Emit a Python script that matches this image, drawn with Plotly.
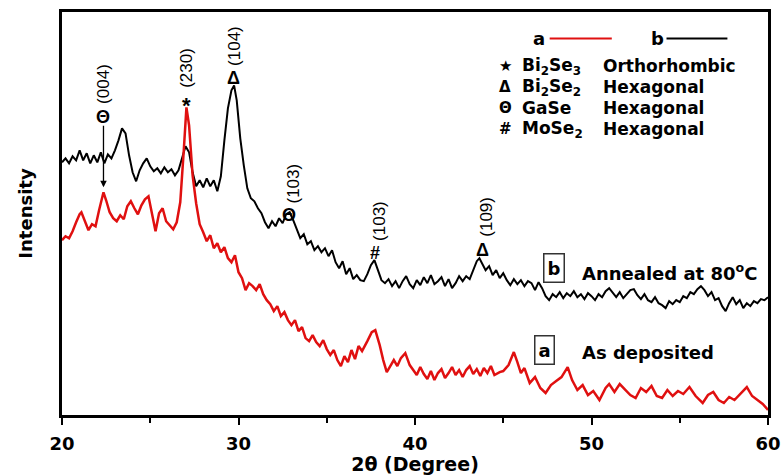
import plotly.graph_objects as go

# ---- data (2-theta in degrees, intensity in arbitrary units) ----
two_theta_b = [20.0, 20.2, 20.4, 20.6, 20.8, 21.0, 21.2, 21.4, 21.6, 21.8, 22.0, 22.2, 22.4, 22.6, 22.8,
               23.0, 23.2, 23.4, 23.6, 23.8, 24.0, 24.2, 24.4, 24.6, 24.8, 25.0, 25.2, 25.4, 25.6, 25.8,
               26.0, 26.2, 26.4, 26.6, 26.8, 27.0, 27.2, 27.4, 27.6, 27.8, 28.0, 28.2, 28.4, 28.6, 28.8,
               29.0, 29.2, 29.4, 29.6, 29.75, 29.9, 30.1, 30.3, 30.5, 30.7, 30.9, 31.1, 31.3, 31.5, 31.7,
               31.9, 32.1, 32.3, 32.5, 32.7, 32.9, 33.1, 33.3, 33.5, 33.7, 33.9, 34.1, 34.3, 34.5, 34.7,
               34.9, 35.1, 35.3, 35.5, 35.7, 35.9, 36.1, 36.3, 36.5, 36.7, 36.9, 37.1, 37.3, 37.5, 37.7,
               37.9, 38.1, 38.3, 38.5, 38.7, 38.9, 39.1, 39.3, 39.5, 39.7, 39.9, 40.1, 40.3, 40.5, 40.7,
               40.9, 41.1, 41.3, 41.5, 41.7, 41.9, 42.1, 42.3, 42.5, 42.7, 42.9, 43.1, 43.3, 43.5, 43.65,
               43.8, 44.0, 44.2, 44.4, 44.6, 44.8, 45.0, 45.2, 45.4, 45.6, 45.8, 46.0, 46.2, 46.4, 46.6,
               46.8, 47.0, 47.2, 47.4, 47.6, 47.8, 48.0, 48.2, 48.4, 48.6, 48.8, 49.0, 49.2, 49.4, 49.6,
               49.8, 50.0, 50.2, 50.4, 50.6, 50.8, 51.0, 51.2, 51.4, 51.6, 51.8, 52.0, 52.2, 52.4, 52.6,
               52.8, 53.0, 53.2, 53.4, 53.6, 53.8, 54.0, 54.2, 54.4, 54.6, 54.8, 55.0, 55.2, 55.4, 55.6,
               55.8, 56.0, 56.2, 56.4, 56.6, 56.8, 57.0, 57.2, 57.4, 57.6, 57.8, 58.0, 58.2, 58.4, 58.6,
               58.8, 59.0, 59.2, 59.4, 59.6, 59.8, 60.0]
intensity_b = [253, 257, 252, 259, 255, 265, 255, 262, 252, 260, 253, 263, 252, 261, 257,
               265, 275, 287, 282, 260, 243, 234, 245, 252, 257, 249, 244, 247, 242, 248,
               243, 246, 240, 245, 257, 269, 263, 243, 229, 235, 228, 237, 229, 235, 224,
               239, 275, 307, 325, 330, 315, 277, 250, 227, 217, 214, 207, 202, 193, 187,
               194, 189, 197, 192, 201, 203, 195, 186, 177, 181, 171, 174, 165, 169, 163,
               167, 159, 165, 153, 147, 154, 141, 147, 136, 140, 135, 134, 141, 150, 155,
               145, 135, 132, 136, 129, 134, 127, 134, 139, 131, 127, 135, 130, 138, 132,
               140, 131, 134, 138, 129, 136, 127, 132, 139, 134, 139, 136, 145, 154, 157,
               152, 145, 149, 140, 145, 137, 142, 135, 130, 136, 131, 135, 129, 134, 132,
               125, 133, 127, 119, 115, 121, 118, 123, 117, 122, 119, 124, 118, 121, 116,
               122, 119, 115, 121, 118, 124, 127, 122, 118, 123, 117, 121, 125, 126, 120,
               116, 121, 115, 113, 118, 112, 110, 107, 114, 111, 115, 113, 119, 117, 123,
               121, 126, 129, 125, 119, 123, 115, 117, 109, 104, 112, 118, 111, 115, 107,
               112, 109, 114, 112, 116, 115, 118]

two_theta_a = [20.0, 20.2, 20.4, 20.6, 20.8, 21.0, 21.1, 21.3, 21.5, 21.7, 21.9, 22.1, 22.35, 22.5, 22.7,
               22.9, 23.1, 23.3, 23.5, 23.7, 23.9, 24.1, 24.3, 24.5, 24.7, 24.9, 25.1, 25.3, 25.5, 25.7,
               25.9, 26.1, 26.3, 26.5, 26.7, 26.9, 27.05, 27.2, 27.4, 27.6, 27.8, 28.0, 28.2, 28.4, 28.6,
               28.8, 29.0, 29.2, 29.4, 29.6, 29.8, 30.0, 30.2, 30.4, 30.6, 30.8, 31.0, 31.2, 31.4, 31.6,
               31.8, 32.0, 32.2, 32.4, 32.6, 32.8, 33.0, 33.2, 33.4, 33.6, 33.8, 34.0, 34.2, 34.4, 34.6,
               34.8, 35.0, 35.2, 35.4, 35.6, 35.8, 36.0, 36.2, 36.4, 36.6, 36.8, 37.0, 37.3, 37.55, 37.75,
               38.0, 38.2, 38.4, 38.6, 38.8, 39.0, 39.2, 39.45, 39.7, 39.9, 40.1, 40.3, 40.5, 40.7, 40.9,
               41.1, 41.3, 41.5, 41.7, 41.9, 42.1, 42.3, 42.5, 42.7, 42.9, 43.1, 43.3, 43.5, 43.7, 43.9,
               44.1, 44.3, 44.5, 44.8, 45.0, 45.3, 45.6, 45.8, 46.0, 46.2, 46.5, 46.8, 47.1, 47.4, 47.7,
               48.0, 48.3, 48.65, 48.9, 49.2, 49.5, 49.8, 50.1, 50.45, 50.8, 51.0, 51.3, 51.6, 51.9, 52.2,
               52.5, 52.8, 53.1, 53.4, 53.7, 54.0, 54.3, 54.6, 54.9, 55.2, 55.55, 55.9, 56.3, 56.6, 56.9,
               57.2, 57.5, 57.8, 58.1, 58.4, 58.8, 59.1, 59.4, 59.7, 60.0]
intensity_a = [175, 179, 177, 184, 193, 201, 203, 193, 185, 191, 189, 205, 223, 215, 203,
               197, 194, 200, 196, 209, 214, 207, 201, 210, 216, 219, 201, 184, 202, 207,
               194, 190, 186, 193, 213, 265, 308, 290, 240, 212, 191, 183, 174, 180, 167,
               172, 163, 168, 157, 153, 160, 143, 137, 125, 132, 129, 125, 131, 121, 115,
               111, 104, 109, 99, 103, 95, 90, 95, 84, 88, 77, 74, 80, 73, 69,
               75, 66, 60, 65, 55, 49, 59, 53, 65, 56, 69, 64, 74, 83, 85,
               70, 55, 43, 49, 55, 49, 57, 62, 50, 45, 40, 48, 41, 36, 44,
               35, 42, 46, 37, 42, 48, 40, 45, 38, 45, 49, 41, 46, 39, 47,
               42, 49, 40, 43, 44, 50, 63, 53, 42, 47, 32, 38, 27, 22, 30,
               34, 38, 48, 35, 25, 30, 20, 24, 15, 27, 31, 23, 31, 25, 20,
               17, 27, 23, 29, 19, 17, 25, 19, 24, 21, 28, 19, 12, 20, 23,
               15, 12, 18, 15, 21, 28, 19, 15, 11, 5]

x_ticks = [20, 30, 40, 50, 60]

# peak labels: (text, 2theta, intensity)
miller_labels = [("(004)", 22.35, 332), ("(230)", 27.05, 348), ("(104)", 29.77, 370),
                 ("(103)", 33.1, 232), ("(103)", 38.0, 194), ("(109)", 44.05, 199)]
phase_marks = [("Θ", 22.35, 298), ("*", 27.05, 310), ("Δ", 29.7, 337),
               ("Θ", 32.85, 200), ("#", 37.75, 162), ("Δ", 43.8, 165)]

legend_rows = [("★", "Bi<sub>2</sub>Se<sub>3</sub>", "Orthorhombic"),
               ("Δ", "Bi<sub>2</sub>Se<sub>2</sub>", "Hexagonal"),
               ("Θ", "GaSe", "Hexagonal"),
               ("#", "MoSe<sub>2</sub>", "Hexagonal")]

RED = "#e01010"
BOLD = "DejaVu Sans"

fig = go.Figure()
fig.add_trace(go.Scatter(x=two_theta_b, y=intensity_b, mode="lines",
                         line=dict(color="black", width=2), name="b"))
fig.add_trace(go.Scatter(x=two_theta_a, y=intensity_a, mode="lines",
                         line=dict(color=RED, width=2.5), name="a"))

ann = []
for txt, x, y in miller_labels:
    ann.append(dict(x=x, y=y, xref="x", yref="y", text=txt, textangle=-90, showarrow=False,
                    font=dict(family="Liberation Sans, Arial", size=17, color="black"),
                    xanchor="center", yanchor="middle"))
for txt, x, y in phase_marks:
    ann.append(dict(x=x, y=y, xref="x", yref="y", text="<b>%s</b>" % txt, showarrow=False,
                    font=dict(family="Liberation Sans, Arial", size=18 if txt != "*" else 22, color="black"),
                    xanchor="center", yanchor="middle"))
# arrow for (004)
ann.append(dict(x=22.35, y=228, ax=22.35, ay=291, xref="x", yref="y", axref="x", ayref="y",
                text="", showarrow=True, arrowhead=2, arrowsize=1, arrowwidth=1.3, arrowcolor="black"))

# legend (a / b lines)
ann.append(dict(x=47.0, y=377, xref="x", yref="y", text="<b>a</b>", showarrow=False,
                font=dict(family=BOLD, size=18, color="black"), xanchor="center", yanchor="middle"))
ann.append(dict(x=53.74, y=377, xref="x", yref="y", text="<b>b</b>", showarrow=False,
                font=dict(family=BOLD, size=18, color="black"), xanchor="center", yanchor="middle"))
legend_y = [349, 328, 307, 286]
for (sym, name, desc), y in zip(legend_rows, legend_y):
    ann.append(dict(x=44.62, y=y, xref="x", yref="y", text="<b>%s</b>" % sym, showarrow=False,
                    font=dict(family=BOLD, size=15, color="black"), xanchor="left", yanchor="middle"))
    ann.append(dict(x=45.93, y=y, xref="x", yref="y", text="<b>%s</b>" % name, showarrow=False,
                    font=dict(family=BOLD, size=17, color="black"), xanchor="left", yanchor="middle"))
    ann.append(dict(x=50.52, y=y, xref="x", yref="y", text="<b>%s</b>" % desc, showarrow=False,
                    font=dict(family=BOLD, size=17, color="black"), xanchor="left", yanchor="middle"))

# curve labels
ann.append(dict(x=47.9, y=147, xref="x", yref="y", text="<b>b</b>", showarrow=False,
                font=dict(family=BOLD, size=18, color="black"), xanchor="center", yanchor="middle",
                bordercolor="#333333", borderwidth=1.5, borderpad=3, bgcolor="white"))
ann.append(dict(x=49.33, y=143, xref="x", yref="y", text="<b>Annealed at 80<sup>o</sup>C</b>",
                showarrow=False, font=dict(family=BOLD, size=18, color="black"),
                xanchor="left", yanchor="middle"))
ann.append(dict(x=47.33, y=65, xref="x", yref="y", text="<b>a</b>", showarrow=False,
                font=dict(family=BOLD, size=18, color="black"), xanchor="center", yanchor="middle",
                bordercolor="#333333", borderwidth=1.5, borderpad=3, bgcolor="white"))
ann.append(dict(x=49.33, y=63, xref="x", yref="y", text="<b>As deposited</b>",
                showarrow=False, font=dict(family=BOLD, size=18, color="black"),
                xanchor="left", yanchor="middle"))

shapes = [
    dict(type="line", xref="x", yref="y", x0=47.63, x1=51.15, y0=377, y1=377,
         line=dict(color=RED, width=2)),
    dict(type="line", xref="x", yref="y", x0=54.25, x1=57.7, y0=377, y1=377,
         line=dict(color="black", width=2)),
]

fig.update_layout(
    width=784, height=475,
    margin=dict(l=62, r=16, t=12, b=60),
    paper_bgcolor="white", plot_bgcolor="white",
    showlegend=False,
    annotations=ann, shapes=shapes,
    xaxis=dict(range=[20, 60], tickvals=x_ticks, ticks="outside", ticklen=7, tickwidth=2,
               tickcolor="black", showline=True, linewidth=2.5, linecolor="black", mirror=True,
               showgrid=False, zeroline=False, ticklabelstandoff=4, automargin=False,
               tickfont=dict(family=BOLD, size=18, color="black", weight="bold"),
               minor=dict(dtick=5, ticks="outside", ticklen=5, tickwidth=2, tickcolor="black", showgrid=False),
               title=dict(text="<b>2θ (Degree)</b>", font=dict(family=BOLD, size=19, color="black"),
                          standoff=8)),
    yaxis=dict(range=[0, 403.5], showticklabels=False, ticks="", showline=True, linewidth=2.5,
               linecolor="black", mirror=True, showgrid=False, zeroline=False, automargin=False,
               title=dict(text="<b>Intensity</b>", font=dict(family=BOLD, size=18, color="black"),
                          standoff=22)),
)

fig.write_html("out.html")
